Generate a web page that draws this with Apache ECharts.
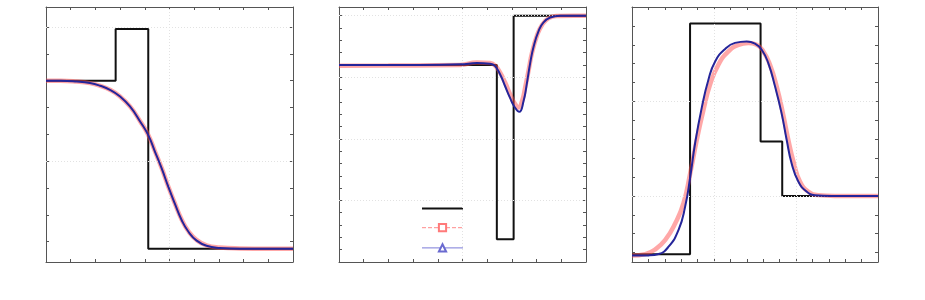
<!DOCTYPE html>
<html>
<head>
<meta charset="utf-8">
<script src="https://cdn.jsdelivr.net/npm/echarts@6/dist/echarts.min.js"></script>
<style>
html,body{margin:0;padding:0;background:#fff;}
#chart{width:925px;height:300px;}
</style>
</head>
<body>
<div id="chart"></div>
<script>
// ---------- Panel 1 ----------
const p1Exact = [[0,0.8],[0.282,0.8],[0.282,0.9925],[0.414,0.9925],[0.414,0.174],[1,0.174]];
const p1Red = [[0,0.8],[0.06,0.8],[0.124,0.797],[0.178,0.791],[0.219,0.781],[0.259,0.766],[0.3,0.741],[0.34,0.704],[0.381,0.649],[0.414,0.598],[0.441,0.537],[0.468,0.475],[0.495,0.406],[0.522,0.342],[0.549,0.283],[0.576,0.24],[0.61,0.206],[0.65,0.186],[0.704,0.178],[0.785,0.175],[0.9,0.174],[1,0.174]];
const p1Blue = [[0,0.8],[0.06,0.8],[0.124,0.797],[0.178,0.791],[0.219,0.781],[0.259,0.766],[0.3,0.741],[0.34,0.704],[0.381,0.648],[0.414,0.597],[0.441,0.536],[0.468,0.474],[0.495,0.405],[0.522,0.341],[0.549,0.281],[0.576,0.238],[0.61,0.204],[0.65,0.185],[0.704,0.177],[0.785,0.174],[0.9,0.174],[1,0.174]];
const p1XRange = [0, 1];
const p1YRange = [0.1244, 1.0746];
const p1XTicks = [0.1,0.2,0.3,0.4,0.5,0.6,0.7,0.8,0.9];
const p1YTicks = [0.2,0.3,0.4,0.5,0.6,0.7,0.8,0.9,1.0];
const p1XGrid = [0.5];
const p1YGrid = [0.5, 1.0];

// ---------- Panel 2 ----------
const p2Exact = [[0,0.92],[0.639,0.92],[0.639,0.637],[0.707,0.637],[0.707,1.0],[1,1.0]];
const p2Red = [[0,0.9187],[0.2,0.919],[0.491,0.92],[0.558,0.924],[0.612,0.923],[0.632,0.919],[0.653,0.907],[0.673,0.891],[0.693,0.872],[0.709,0.859],[0.727,0.851],[0.741,0.861],[0.754,0.884],[0.768,0.912],[0.781,0.939],[0.801,0.967],[0.822,0.985],[0.849,0.996],[0.882,0.9995],[0.95,1.0],[1,1.0]];
const p2Blue = [[0,0.9198],[0.288,0.92],[0.491,0.921],[0.558,0.923],[0.612,0.922],[0.632,0.918],[0.653,0.904],[0.673,0.885],[0.693,0.866],[0.709,0.853],[0.73,0.844],[0.747,0.861],[0.761,0.891],[0.774,0.923],[0.788,0.95],[0.808,0.975],[0.828,0.989],[0.855,0.997],[0.896,1.0],[0.95,1.0],[1,1.0]];
const p2XRange = [0, 1];
const p2YRange = [0.6, 1.0141];
const p2XTicks = [0.1,0.2,0.3,0.4,0.5,0.6,0.7,0.8,0.9];
const p2YTicks = [0.62,0.64,0.66,0.68,0.7,0.72,0.74,0.76,0.78,0.8,0.82,0.84,0.86,0.88,0.9,0.92,0.94,0.96,0.98,1.0];
const p2XGrid = [0.5];
const p2YGrid = [0.7, 0.8, 0.9, 1.0];

// ---------- Panel 3 ----------
const p3Exact = [[0,0.691],[0.354,0.691],[0.354,1.912],[0.784,1.912],[0.784,1.288],[0.916,1.288],[0.916,1.0],[1.5,1.0]];
const p3Red = [[0,0.684],[0.081,0.692],[0.142,0.717],[0.203,0.767],[0.264,0.855],[0.314,0.961],[0.355,1.12],[0.395,1.297],[0.436,1.456],[0.476,1.589],[0.527,1.695],[0.588,1.765],[0.649,1.8],[0.709,1.809],[0.76,1.8],[0.801,1.765],[0.841,1.695],[0.882,1.58],[0.922,1.43],[0.953,1.297],[0.987,1.173],[1.024,1.076],[1.074,1.023],[1.135,1.004],[1.237,1.0],[1.5,1.0]];
const p3Blue = [[0,0.684],[0.101,0.685],[0.162,0.692],[0.223,0.731],[0.284,0.82],[0.324,0.943],[0.355,1.10],[0.385,1.28],[0.426,1.47],[0.466,1.615],[0.507,1.712],[0.568,1.778],[0.628,1.81],[0.699,1.818],[0.75,1.806],[0.791,1.774],[0.831,1.703],[0.872,1.58],[0.912,1.438],[0.943,1.297],[0.973,1.173],[1.014,1.076],[1.064,1.023],[1.115,1.004],[1.216,1.0],[1.5,1.0]];
const p3XRange = [0, 1.5];
const p3YRange = [0.65, 2.0];
const p3XTicks = [0.1,0.2,0.3,0.4,0.5,0.6,0.7,0.8,0.9,1.0,1.1,1.2,1.3,1.4];
const p3YTicks = [0.7,0.8,0.9,1.0,1.1,1.2,1.3,1.4,1.5,1.6,1.7,1.8,1.9];
const p3XGrid = [0.5, 1.0];
const p3YGrid = [1.0, 1.5];

const seriesNames = ['exact', 'schemeA', 'schemeB'];

const panels = [
  {exact:p1Exact, red:p1Red, blue:p1Blue, xr:p1XRange, yr:p1YRange, xt:p1XTicks, yt:p1YTicks, xg:p1XGrid, yg:p1YGrid},
  {exact:p2Exact, red:p2Red, blue:p2Blue, xr:p2XRange, yr:p2YRange, xt:p2XTicks, yt:p2YTicks, xg:p2XGrid, yg:p2YGrid},
  {exact:p3Exact, red:p3Red, blue:p3Blue, xr:p3XRange, yr:p3YRange, xt:p3XTicks, yt:p3YTicks, xg:p3XGrid, yg:p3YGrid}
];

const gridBoxes = [
  {left:46, top:7, width:247, height:255},
  {left:339, top:7, width:247, height:255},
  {left:632, top:7, width:246, height:255}
];

const axisColor = '#555555';
function mkAxis(gi, pos, range, ticks) {
  return {
    type:'value', gridIndex:gi, position:pos, min:range[0], max:range[1],
    axisLine:{show:true, onZero:false, lineStyle:{color:axisColor, width:1}},
    axisTick:{show:true, inside:true, length:3, customValues:ticks, lineStyle:{color:axisColor, width:1}},
    axisLabel:{show:false},
    splitLine:{show:false}
  };
}

const grid = [], xAxis = [], yAxis = [], series = [];
panels.forEach((p, i) => {
  grid.push(Object.assign({containLabel:false}, gridBoxes[i]));
  xAxis.push(mkAxis(i, 'bottom', p.xr, p.xt));
  xAxis.push(mkAxis(i, 'top', p.xr, p.xt));
  yAxis.push(mkAxis(i, 'left', p.yr, p.yt));
  yAxis.push(mkAxis(i, 'right', p.yr, p.yt));
  const gl = [];
  p.xg.forEach(v => gl.push({xAxis:v}));
  p.yg.forEach(v => gl.push({yAxis:v}));
  series.push({
    type:'line', xAxisIndex:2*i, yAxisIndex:2*i, data:[], silent:true, z:1,
    markLine:{silent:true, symbol:['none','none'], label:{show:false},
      lineStyle:{type:[1,2], color:'#e2e2e2', width:1}, data:gl, animation:false}
  });
  series.push({
    name:seriesNames[0], type:'line', xAxisIndex:2*i, yAxisIndex:2*i, data:p.exact,
    symbol:'none', lineStyle:{color:'#111111', width:2}, itemStyle:{color:'#111111'}, z:3
  });
  series.push({
    name:seriesNames[1], type:'line', xAxisIndex:2*i, yAxisIndex:2*i, data:p.red,
    symbol:'emptyRect', showSymbol:false, smooth:0.5,
    lineStyle:{color:'rgba(255,80,80,0.5)', width:4.5}, itemStyle:{color:'#ff6b6b'}, z:4
  });
  series.push({
    name:seriesNames[2], type:'line', xAxisIndex:2*i, yAxisIndex:2*i, data:p.blue,
    symbol:'emptyTriangle', showSymbol:false, smooth:0.5,
    lineStyle:{color:'#25259a', width:2}, itemStyle:{color:'#3b3bb0'}, z:5
  });
});

const chart = echarts.init(document.getElementById('chart'), null, {renderer:'canvas'});
chart.setOption({
  animation:false,
  backgroundColor:'#ffffff',
  grid, xAxis, yAxis, series,
  legend:{
    orient:'vertical', left:416, top:199, itemWidth:41, itemHeight:9, itemGap:11,
    selectedMode:false, formatter:() => '', textStyle:{fontSize:1},
    data:[
      {name:seriesNames[0], itemStyle:{opacity:0}, lineStyle:{color:'#111111', width:2, type:'solid'}},
      {name:seriesNames[1], itemStyle:{color:'#ff7a7a', borderColor:'#ff7a7a'}, lineStyle:{color:'#ff8a8a', width:1, type:[4,2]}},
      {name:seriesNames[2], itemStyle:{color:'#6a6ad0', borderColor:'#6a6ad0'}, lineStyle:{color:'#7a7ad8', width:1, type:'solid'}}
    ]
  }
});
</script>
</body>
</html>
